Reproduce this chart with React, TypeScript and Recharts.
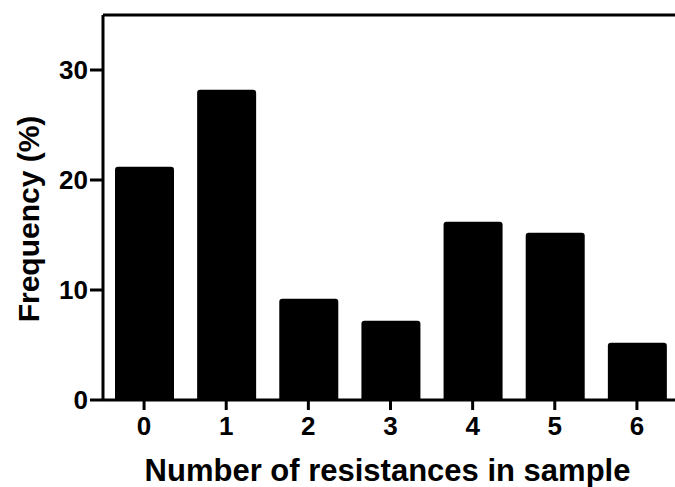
import React from 'react'
import { BarChart, Bar, XAxis, YAxis, ReferenceLine, Label } from 'recharts'

const categories = ['0', '1', '2', '3', '4', '5', '6']
const frequency = [21.2, 28.2, 9.2, 7.2, 16.2, 15.2, 5.2]
const yTicks = [0, 10, 20, 30]

const data = categories.map((name, i) => ({ name, value: frequency[i] }))

const font = '"Liberation Sans", Arial, Helvetica, sans-serif'
const tickStyle = { fontFamily: font, fontWeight: 700, fontSize: 26, fill: '#000' }

export default function App() {
  return (
    <div style={{ width: 675, height: 487, background: '#fff', overflow: 'hidden' }}>
      <style>{`body { margin: 0; }`}</style>
      <BarChart
        width={675}
        height={487}
        data={data}
        margin={{ top: 15, right: -3, left: 0, bottom: 0 }}
        barSize={59}
      >
        <XAxis
          dataKey="name"
          height={87}
          axisLine={{ stroke: '#000', strokeWidth: 3 }}
          tickLine={{ stroke: '#000', strokeWidth: 3 }}
          tickSize={10}
          tickMargin={7}
          tick={tickStyle}
        >
          <Label
            content={(props: any) => {
              const vb = props.viewBox
              return (
                <text
                  x={vb.x + vb.width / 2 - 3}
                  y={481}
                  textAnchor="middle"
                  style={{ fontFamily: font, fontWeight: 700, fontSize: 31, fill: '#000' }}
                >
                  Number of resistances in sample
                </text>
              )
            }}
          />
        </XAxis>
        <YAxis
          width={103}
          domain={[0, 35]}
          ticks={yTicks}
          axisLine={{ stroke: '#000', strokeWidth: 3 }}
          tickLine={{ stroke: '#000', strokeWidth: 3 }}
          tickSize={13}
          tickMargin={2}
          tick={tickStyle}
        >
          <Label
            content={() => (
              <text
                x={39}
                y={219}
                transform="rotate(-90, 39, 219)"
                textAnchor="middle"
                style={{ fontFamily: font, fontWeight: 700, fontSize: 30, fill: '#000' }}
              >
                Frequency (%)
              </text>
            )}
          />
        </YAxis>
        <ReferenceLine y={35} stroke="#000" strokeWidth={3} />
        <Bar dataKey="value" fill="#000" radius={[3, 3, 0, 0]} isAnimationActive={false} />
      </BarChart>
    </div>
  )
}
